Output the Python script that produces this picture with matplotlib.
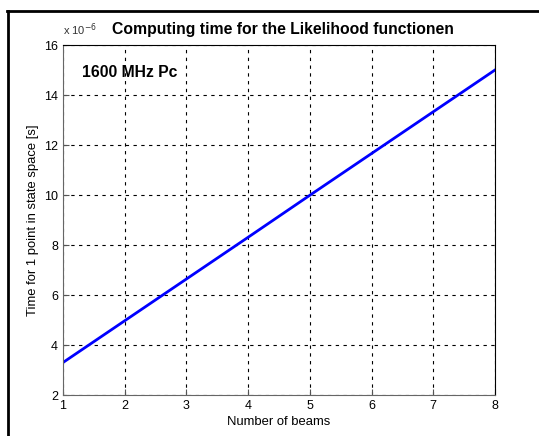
import matplotlib.pyplot as plt
from matplotlib.lines import Line2D

plt.rcParams['font.family'] = ['Liberation Sans', 'DejaVu Sans']

# data (time in units of 1e-6 s)
beams = [1, 2, 3, 4, 5, 6, 7, 8]
time_e6 = [3.3, 4.97, 6.64, 8.31, 9.99, 11.66, 13.33, 15.0]
y_ticks = [2, 4, 6, 8, 10, 12, 14, 16]

fig = plt.figure(figsize=(5.39, 4.36), dpi=100)
ax = fig.add_axes([63 / 539, 1 - 395 / 436, 432 / 539, 350 / 436])

ax.plot(beams, time_e6, color='#0000ff', linewidth=2)

ax.set_xlim(1, 8)
ax.set_ylim(2, 16)
ax.set_xticks(beams)
ax.set_yticks(y_ticks)
ax.grid(True, color='black', linestyle=(0, (3, 4)), linewidth=0.8)
ax.tick_params(direction='in', labelsize=9, length=4, color='#555555')
for side in ['left', 'bottom']:
    ax.spines[side].set_color('#666666')
for side in ['right', 'top']:
    ax.spines[side].set_color('black')

ax.set_xlabel('Number of beams', fontsize=9.4, labelpad=3)
ax.set_ylabel('Time for 1 point in state space [s]', fontsize=9.4, labelpad=4)
ax.set_title('Computing time for the Likelihood functionen', fontsize=11.3,
             fontweight='bold', x=0.51, pad=8)
ax.text(0.0, 1.02, r'x 10$^{-6}$', transform=ax.transAxes, fontsize=8,
        ha='left', va='bottom', color='#333333')
ax.text(1.31, 14.9, '1600 MHz Pc', fontsize=11.3, fontweight='bold',
        ha='left', va='center')

# frame lines around the figure (top and left only)
fig.add_artist(Line2D([7 / 539, 1], [1 - 11 / 436] * 2, color='black', linewidth=2))
fig.add_artist(Line2D([8 / 539] * 2, [0, 1 - 11 / 436], color='black', linewidth=2))

fig.savefig('out.png', dpi=100)
